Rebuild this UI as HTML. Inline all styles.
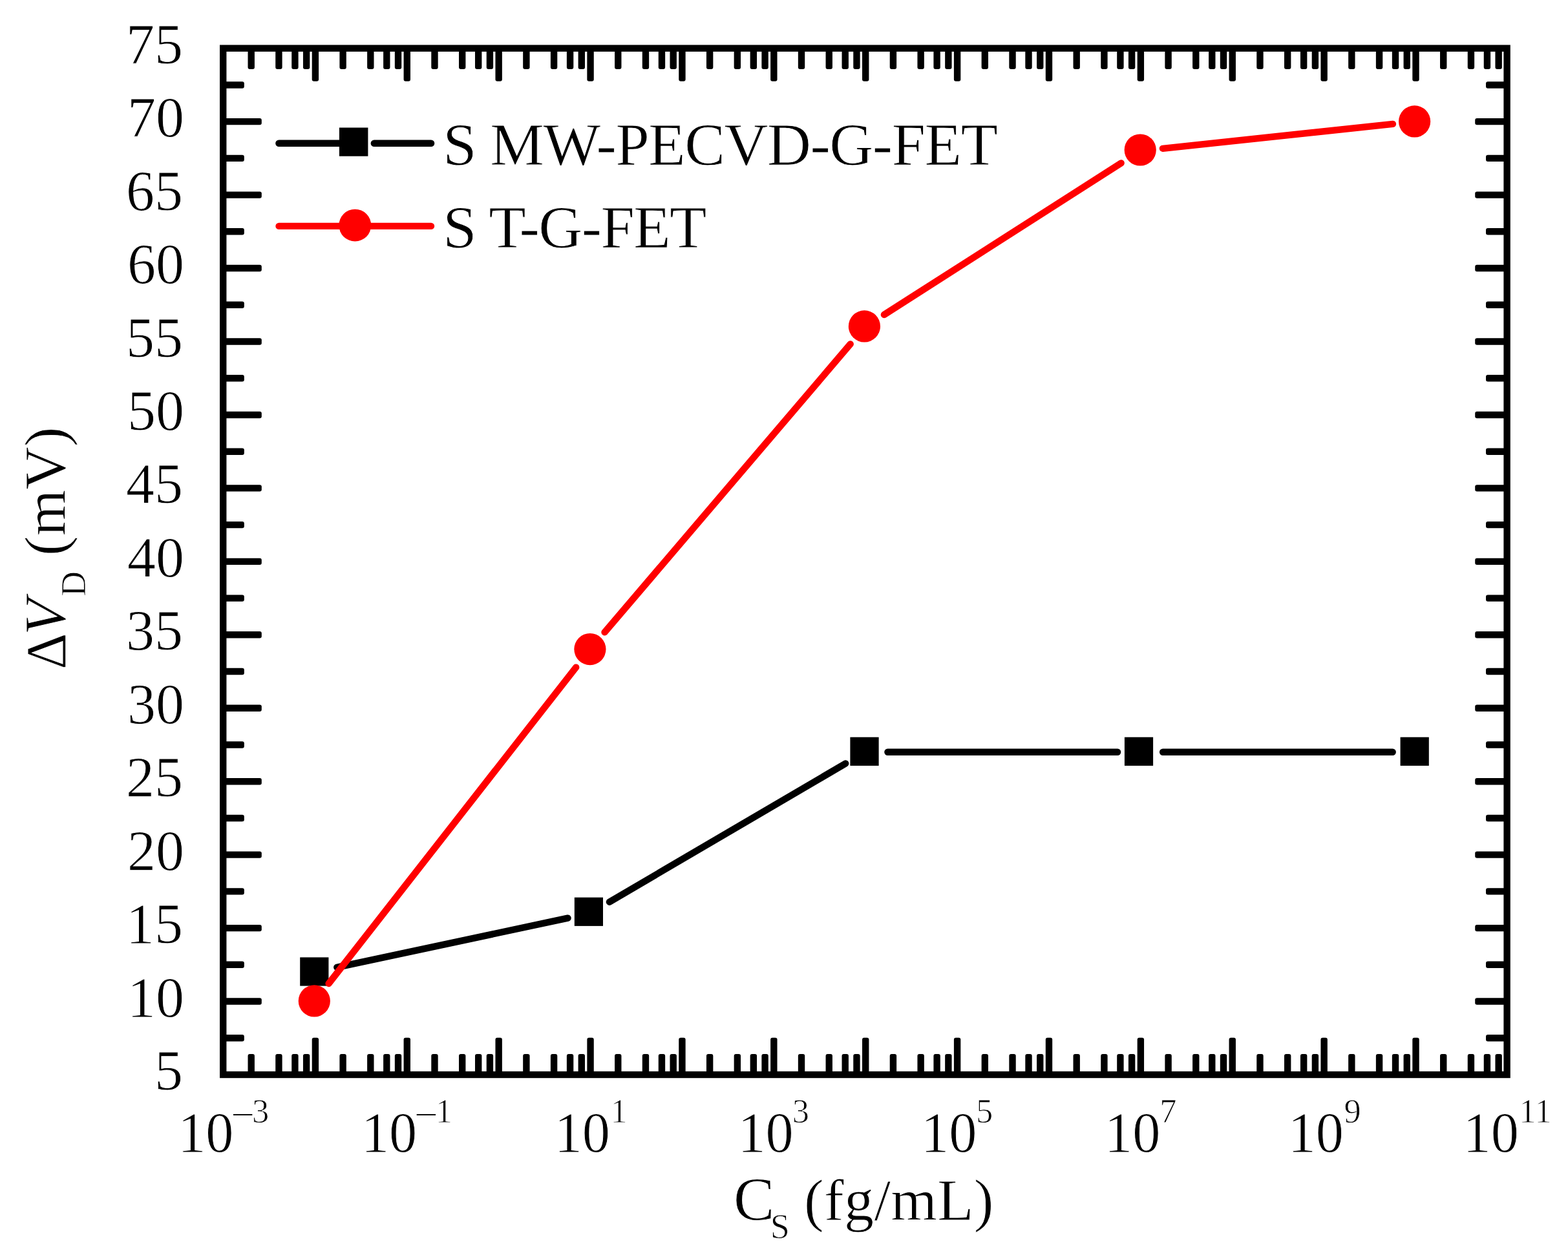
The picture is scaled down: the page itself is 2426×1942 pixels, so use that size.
<!DOCTYPE html><html><head><meta charset="utf-8"><style>html,body{margin:0;padding:0;background:#fff;overflow:hidden;}svg{display:block;}text{font-family:"Liberation Serif","Times New Roman",serif;fill:#000;stroke:#fff;stroke-width:0.9px;paint-order:fill;}</style></head><body>
<svg width="2426" height="1942" viewBox="0 0 2426 1942">
<rect x="0" y="0" width="2426" height="1942" fill="#fff"/>
<g fill="#000">
<rect x="383.51" y="1631.00" width="10.4" height="32.00" rx="3"/>
<rect x="383.51" y="74.70" width="10.4" height="32.20" rx="3"/>
<rect x="426.22" y="1631.00" width="10.4" height="32.00" rx="3"/>
<rect x="426.22" y="74.70" width="10.4" height="32.20" rx="3"/>
<rect x="451.21" y="1631.00" width="10.4" height="32.00" rx="3"/>
<rect x="451.21" y="74.70" width="10.4" height="32.20" rx="3"/>
<rect x="468.94" y="1631.00" width="10.4" height="32.00" rx="3"/>
<rect x="468.94" y="74.70" width="10.4" height="32.20" rx="3"/>
<rect x="482.69" y="1605.80" width="10.4" height="57.20" rx="3"/>
<rect x="482.69" y="74.70" width="10.4" height="51.10" rx="3"/>
<rect x="525.40" y="1631.00" width="10.4" height="32.00" rx="3"/>
<rect x="525.40" y="74.70" width="10.4" height="32.20" rx="3"/>
<rect x="568.11" y="1631.00" width="10.4" height="32.00" rx="3"/>
<rect x="568.11" y="74.70" width="10.4" height="32.20" rx="3"/>
<rect x="593.09" y="1631.00" width="10.4" height="32.00" rx="3"/>
<rect x="593.09" y="74.70" width="10.4" height="32.20" rx="3"/>
<rect x="610.82" y="1631.00" width="10.4" height="32.00" rx="3"/>
<rect x="610.82" y="74.70" width="10.4" height="32.20" rx="3"/>
<rect x="624.57" y="1605.80" width="10.4" height="57.20" rx="3"/>
<rect x="624.57" y="74.70" width="10.4" height="51.10" rx="3"/>
<rect x="667.28" y="1631.00" width="10.4" height="32.00" rx="3"/>
<rect x="667.28" y="74.70" width="10.4" height="32.20" rx="3"/>
<rect x="710.00" y="1631.00" width="10.4" height="32.00" rx="3"/>
<rect x="710.00" y="74.70" width="10.4" height="32.20" rx="3"/>
<rect x="734.98" y="1631.00" width="10.4" height="32.00" rx="3"/>
<rect x="734.98" y="74.70" width="10.4" height="32.20" rx="3"/>
<rect x="752.71" y="1631.00" width="10.4" height="32.00" rx="3"/>
<rect x="752.71" y="74.70" width="10.4" height="32.20" rx="3"/>
<rect x="766.46" y="1605.80" width="10.4" height="57.20" rx="3"/>
<rect x="766.46" y="74.70" width="10.4" height="51.10" rx="3"/>
<rect x="809.17" y="1631.00" width="10.4" height="32.00" rx="3"/>
<rect x="809.17" y="74.70" width="10.4" height="32.20" rx="3"/>
<rect x="851.88" y="1631.00" width="10.4" height="32.00" rx="3"/>
<rect x="851.88" y="74.70" width="10.4" height="32.20" rx="3"/>
<rect x="876.87" y="1631.00" width="10.4" height="32.00" rx="3"/>
<rect x="876.87" y="74.70" width="10.4" height="32.20" rx="3"/>
<rect x="894.59" y="1631.00" width="10.4" height="32.00" rx="3"/>
<rect x="894.59" y="74.70" width="10.4" height="32.20" rx="3"/>
<rect x="908.34" y="1605.80" width="10.4" height="57.20" rx="3"/>
<rect x="908.34" y="74.70" width="10.4" height="51.10" rx="3"/>
<rect x="951.06" y="1631.00" width="10.4" height="32.00" rx="3"/>
<rect x="951.06" y="74.70" width="10.4" height="32.20" rx="3"/>
<rect x="993.77" y="1631.00" width="10.4" height="32.00" rx="3"/>
<rect x="993.77" y="74.70" width="10.4" height="32.20" rx="3"/>
<rect x="1018.75" y="1631.00" width="10.4" height="32.00" rx="3"/>
<rect x="1018.75" y="74.70" width="10.4" height="32.20" rx="3"/>
<rect x="1036.48" y="1631.00" width="10.4" height="32.00" rx="3"/>
<rect x="1036.48" y="74.70" width="10.4" height="32.20" rx="3"/>
<rect x="1050.23" y="1605.80" width="10.4" height="57.20" rx="3"/>
<rect x="1050.23" y="74.70" width="10.4" height="51.10" rx="3"/>
<rect x="1092.94" y="1631.00" width="10.4" height="32.00" rx="3"/>
<rect x="1092.94" y="74.70" width="10.4" height="32.20" rx="3"/>
<rect x="1135.65" y="1631.00" width="10.4" height="32.00" rx="3"/>
<rect x="1135.65" y="74.70" width="10.4" height="32.20" rx="3"/>
<rect x="1160.64" y="1631.00" width="10.4" height="32.00" rx="3"/>
<rect x="1160.64" y="74.70" width="10.4" height="32.20" rx="3"/>
<rect x="1178.37" y="1631.00" width="10.4" height="32.00" rx="3"/>
<rect x="1178.37" y="74.70" width="10.4" height="32.20" rx="3"/>
<rect x="1192.12" y="1605.80" width="10.4" height="57.20" rx="3"/>
<rect x="1192.12" y="74.70" width="10.4" height="51.10" rx="3"/>
<rect x="1234.83" y="1631.00" width="10.4" height="32.00" rx="3"/>
<rect x="1234.83" y="74.70" width="10.4" height="32.20" rx="3"/>
<rect x="1277.54" y="1631.00" width="10.4" height="32.00" rx="3"/>
<rect x="1277.54" y="74.70" width="10.4" height="32.20" rx="3"/>
<rect x="1302.52" y="1631.00" width="10.4" height="32.00" rx="3"/>
<rect x="1302.52" y="74.70" width="10.4" height="32.20" rx="3"/>
<rect x="1320.25" y="1631.00" width="10.4" height="32.00" rx="3"/>
<rect x="1320.25" y="74.70" width="10.4" height="32.20" rx="3"/>
<rect x="1334.00" y="1605.80" width="10.4" height="57.20" rx="3"/>
<rect x="1334.00" y="74.70" width="10.4" height="51.10" rx="3"/>
<rect x="1376.71" y="1631.00" width="10.4" height="32.00" rx="3"/>
<rect x="1376.71" y="74.70" width="10.4" height="32.20" rx="3"/>
<rect x="1419.43" y="1631.00" width="10.4" height="32.00" rx="3"/>
<rect x="1419.43" y="74.70" width="10.4" height="32.20" rx="3"/>
<rect x="1444.41" y="1631.00" width="10.4" height="32.00" rx="3"/>
<rect x="1444.41" y="74.70" width="10.4" height="32.20" rx="3"/>
<rect x="1462.14" y="1631.00" width="10.4" height="32.00" rx="3"/>
<rect x="1462.14" y="74.70" width="10.4" height="32.20" rx="3"/>
<rect x="1475.89" y="1605.80" width="10.4" height="57.20" rx="3"/>
<rect x="1475.89" y="74.70" width="10.4" height="51.10" rx="3"/>
<rect x="1518.60" y="1631.00" width="10.4" height="32.00" rx="3"/>
<rect x="1518.60" y="74.70" width="10.4" height="32.20" rx="3"/>
<rect x="1561.31" y="1631.00" width="10.4" height="32.00" rx="3"/>
<rect x="1561.31" y="74.70" width="10.4" height="32.20" rx="3"/>
<rect x="1586.30" y="1631.00" width="10.4" height="32.00" rx="3"/>
<rect x="1586.30" y="74.70" width="10.4" height="32.20" rx="3"/>
<rect x="1604.02" y="1631.00" width="10.4" height="32.00" rx="3"/>
<rect x="1604.02" y="74.70" width="10.4" height="32.20" rx="3"/>
<rect x="1617.77" y="1605.80" width="10.4" height="57.20" rx="3"/>
<rect x="1617.77" y="74.70" width="10.4" height="51.10" rx="3"/>
<rect x="1660.49" y="1631.00" width="10.4" height="32.00" rx="3"/>
<rect x="1660.49" y="74.70" width="10.4" height="32.20" rx="3"/>
<rect x="1703.20" y="1631.00" width="10.4" height="32.00" rx="3"/>
<rect x="1703.20" y="74.70" width="10.4" height="32.20" rx="3"/>
<rect x="1728.18" y="1631.00" width="10.4" height="32.00" rx="3"/>
<rect x="1728.18" y="74.70" width="10.4" height="32.20" rx="3"/>
<rect x="1745.91" y="1631.00" width="10.4" height="32.00" rx="3"/>
<rect x="1745.91" y="74.70" width="10.4" height="32.20" rx="3"/>
<rect x="1759.66" y="1605.80" width="10.4" height="57.20" rx="3"/>
<rect x="1759.66" y="74.70" width="10.4" height="51.10" rx="3"/>
<rect x="1802.37" y="1631.00" width="10.4" height="32.00" rx="3"/>
<rect x="1802.37" y="74.70" width="10.4" height="32.20" rx="3"/>
<rect x="1845.08" y="1631.00" width="10.4" height="32.00" rx="3"/>
<rect x="1845.08" y="74.70" width="10.4" height="32.20" rx="3"/>
<rect x="1870.07" y="1631.00" width="10.4" height="32.00" rx="3"/>
<rect x="1870.07" y="74.70" width="10.4" height="32.20" rx="3"/>
<rect x="1887.80" y="1631.00" width="10.4" height="32.00" rx="3"/>
<rect x="1887.80" y="74.70" width="10.4" height="32.20" rx="3"/>
<rect x="1901.55" y="1605.80" width="10.4" height="57.20" rx="3"/>
<rect x="1901.55" y="74.70" width="10.4" height="51.10" rx="3"/>
<rect x="1944.26" y="1631.00" width="10.4" height="32.00" rx="3"/>
<rect x="1944.26" y="74.70" width="10.4" height="32.20" rx="3"/>
<rect x="1986.97" y="1631.00" width="10.4" height="32.00" rx="3"/>
<rect x="1986.97" y="74.70" width="10.4" height="32.20" rx="3"/>
<rect x="2011.95" y="1631.00" width="10.4" height="32.00" rx="3"/>
<rect x="2011.95" y="74.70" width="10.4" height="32.20" rx="3"/>
<rect x="2029.68" y="1631.00" width="10.4" height="32.00" rx="3"/>
<rect x="2029.68" y="74.70" width="10.4" height="32.20" rx="3"/>
<rect x="2043.43" y="1605.80" width="10.4" height="57.20" rx="3"/>
<rect x="2043.43" y="74.70" width="10.4" height="51.10" rx="3"/>
<rect x="2086.14" y="1631.00" width="10.4" height="32.00" rx="3"/>
<rect x="2086.14" y="74.70" width="10.4" height="32.20" rx="3"/>
<rect x="2128.86" y="1631.00" width="10.4" height="32.00" rx="3"/>
<rect x="2128.86" y="74.70" width="10.4" height="32.20" rx="3"/>
<rect x="2153.84" y="1631.00" width="10.4" height="32.00" rx="3"/>
<rect x="2153.84" y="74.70" width="10.4" height="32.20" rx="3"/>
<rect x="2171.57" y="1631.00" width="10.4" height="32.00" rx="3"/>
<rect x="2171.57" y="74.70" width="10.4" height="32.20" rx="3"/>
<rect x="2185.32" y="1605.80" width="10.4" height="57.20" rx="3"/>
<rect x="2185.32" y="74.70" width="10.4" height="51.10" rx="3"/>
<rect x="2228.03" y="1631.00" width="10.4" height="32.00" rx="3"/>
<rect x="2228.03" y="74.70" width="10.4" height="32.20" rx="3"/>
<rect x="2270.74" y="1631.00" width="10.4" height="32.00" rx="3"/>
<rect x="2270.74" y="74.70" width="10.4" height="32.20" rx="3"/>
<rect x="2295.73" y="1631.00" width="10.4" height="32.00" rx="3"/>
<rect x="2295.73" y="74.70" width="10.4" height="32.20" rx="3"/>
<rect x="2313.45" y="1631.00" width="10.4" height="32.00" rx="3"/>
<rect x="2313.45" y="74.70" width="10.4" height="32.20" rx="3"/>
<rect x="345.20" y="1601.08" width="32.60" height="10.4" rx="3"/>
<rect x="2299.00" y="1601.08" width="32.60" height="10.4" rx="3"/>
<rect x="345.20" y="1544.35" width="59.60" height="10.4" rx="3"/>
<rect x="2282.20" y="1544.35" width="49.40" height="10.4" rx="3"/>
<rect x="345.20" y="1487.62" width="32.60" height="10.4" rx="3"/>
<rect x="2299.00" y="1487.62" width="32.60" height="10.4" rx="3"/>
<rect x="345.20" y="1430.90" width="59.60" height="10.4" rx="3"/>
<rect x="2282.20" y="1430.90" width="49.40" height="10.4" rx="3"/>
<rect x="345.20" y="1374.18" width="32.60" height="10.4" rx="3"/>
<rect x="2299.00" y="1374.18" width="32.60" height="10.4" rx="3"/>
<rect x="345.20" y="1317.45" width="59.60" height="10.4" rx="3"/>
<rect x="2282.20" y="1317.45" width="49.40" height="10.4" rx="3"/>
<rect x="345.20" y="1260.73" width="32.60" height="10.4" rx="3"/>
<rect x="2299.00" y="1260.73" width="32.60" height="10.4" rx="3"/>
<rect x="345.20" y="1204.00" width="59.60" height="10.4" rx="3"/>
<rect x="2282.20" y="1204.00" width="49.40" height="10.4" rx="3"/>
<rect x="345.20" y="1147.28" width="32.60" height="10.4" rx="3"/>
<rect x="2299.00" y="1147.28" width="32.60" height="10.4" rx="3"/>
<rect x="345.20" y="1090.55" width="59.60" height="10.4" rx="3"/>
<rect x="2282.20" y="1090.55" width="49.40" height="10.4" rx="3"/>
<rect x="345.20" y="1033.83" width="32.60" height="10.4" rx="3"/>
<rect x="2299.00" y="1033.83" width="32.60" height="10.4" rx="3"/>
<rect x="345.20" y="977.10" width="59.60" height="10.4" rx="3"/>
<rect x="2282.20" y="977.10" width="49.40" height="10.4" rx="3"/>
<rect x="345.20" y="920.38" width="32.60" height="10.4" rx="3"/>
<rect x="2299.00" y="920.38" width="32.60" height="10.4" rx="3"/>
<rect x="345.20" y="863.65" width="59.60" height="10.4" rx="3"/>
<rect x="2282.20" y="863.65" width="49.40" height="10.4" rx="3"/>
<rect x="345.20" y="806.93" width="32.60" height="10.4" rx="3"/>
<rect x="2299.00" y="806.93" width="32.60" height="10.4" rx="3"/>
<rect x="345.20" y="750.20" width="59.60" height="10.4" rx="3"/>
<rect x="2282.20" y="750.20" width="49.40" height="10.4" rx="3"/>
<rect x="345.20" y="693.48" width="32.60" height="10.4" rx="3"/>
<rect x="2299.00" y="693.48" width="32.60" height="10.4" rx="3"/>
<rect x="345.20" y="636.75" width="59.60" height="10.4" rx="3"/>
<rect x="2282.20" y="636.75" width="49.40" height="10.4" rx="3"/>
<rect x="345.20" y="580.02" width="32.60" height="10.4" rx="3"/>
<rect x="2299.00" y="580.02" width="32.60" height="10.4" rx="3"/>
<rect x="345.20" y="523.30" width="59.60" height="10.4" rx="3"/>
<rect x="2282.20" y="523.30" width="49.40" height="10.4" rx="3"/>
<rect x="345.20" y="466.58" width="32.60" height="10.4" rx="3"/>
<rect x="2299.00" y="466.58" width="32.60" height="10.4" rx="3"/>
<rect x="345.20" y="409.85" width="59.60" height="10.4" rx="3"/>
<rect x="2282.20" y="409.85" width="49.40" height="10.4" rx="3"/>
<rect x="345.20" y="353.12" width="32.60" height="10.4" rx="3"/>
<rect x="2299.00" y="353.12" width="32.60" height="10.4" rx="3"/>
<rect x="345.20" y="296.40" width="59.60" height="10.4" rx="3"/>
<rect x="2282.20" y="296.40" width="49.40" height="10.4" rx="3"/>
<rect x="345.20" y="239.68" width="32.60" height="10.4" rx="3"/>
<rect x="2299.00" y="239.68" width="32.60" height="10.4" rx="3"/>
<rect x="345.20" y="182.95" width="59.60" height="10.4" rx="3"/>
<rect x="2282.20" y="182.95" width="49.40" height="10.4" rx="3"/>
<rect x="345.20" y="126.23" width="32.60" height="10.4" rx="3"/>
<rect x="2299.00" y="126.23" width="32.60" height="10.4" rx="3"/>
</g>
<rect x="345.2" y="74.7" width="1986.40" height="1588.30" fill="none" stroke="#000" stroke-width="10.4"/>
<line x1="521.3" y1="1496.9" x2="878.5" y2="1420.7" stroke="#000" stroke-width="10.4" stroke-linecap="round"/>
<line x1="942.9" y1="1395.7" x2="1308.2" y2="1181.5" stroke="#000" stroke-width="10.4" stroke-linecap="round"/>
<line x1="1373.4" y1="1163.8" x2="1729.1" y2="1163.8" stroke="#000" stroke-width="10.4" stroke-linecap="round"/>
<line x1="1799.1" y1="1163.8" x2="2154.7" y2="1163.8" stroke="#000" stroke-width="10.4" stroke-linecap="round"/>
<rect x="464.2" y="1481.4" width="44.2" height="44.2" fill="#000"/>
<rect x="888.8" y="1388.7" width="44.2" height="44.2" fill="#000"/>
<rect x="1315.4" y="1140.7" width="44.2" height="44.2" fill="#000"/>
<rect x="1739.9" y="1140.7" width="44.2" height="44.2" fill="#000"/>
<rect x="2166.6" y="1140.7" width="44.2" height="44.2" fill="#000"/>
<line x1="508.6" y1="1522.0" x2="891.2" y2="1032.6" stroke="#f00" stroke-width="10.4" stroke-linecap="round"/>
<line x1="935.5" y1="978.4" x2="1315.7" y2="532.4" stroke="#f00" stroke-width="10.4" stroke-linecap="round"/>
<line x1="1367.9" y1="487.0" x2="1734.6" y2="252.4" stroke="#f00" stroke-width="10.4" stroke-linecap="round"/>
<line x1="1798.9" y1="229.8" x2="2154.9" y2="191.9" stroke="#f00" stroke-width="10.4" stroke-linecap="round"/>
<circle cx="486.3" cy="1548.9" r="24.6" fill="#f00"/>
<circle cx="912.9" cy="1004.6" r="24.6" fill="#f00"/>
<circle cx="1337.4" cy="504.9" r="24.6" fill="#f00"/>
<circle cx="1764.2" cy="232.0" r="24.6" fill="#f00"/>
<circle cx="2188.6" cy="187.9" r="24.6" fill="#f00"/>
<line x1="431.5" y1="221.7" x2="524.9" y2="221.7" stroke="#000" stroke-width="10.6" stroke-linecap="round"/>
<line x1="578.9" y1="221.7" x2="667" y2="221.7" stroke="#000" stroke-width="10.6" stroke-linecap="round"/>
<rect x="524.9" y="197.5" width="44.5" height="44.2" fill="#000"/>
<line x1="431.5" y1="349.9" x2="667" y2="349.9" stroke="#f00" stroke-width="10.4" stroke-linecap="round"/>
<circle cx="549.3" cy="348.6" r="24.9" fill="#f00"/>
<text x="685.3" y="255.2" font-size="94" textLength="858.6" lengthAdjust="spacing">S MW-PECVD-G-FET</text>
<text x="685.3" y="382.6" font-size="94" textLength="408.2" lengthAdjust="spacing">S T-G-FET</text>
<text x="283" y="1686.0" font-size="88" text-anchor="end">5</text>
<text x="285" y="1572.6" font-size="88" text-anchor="end">10</text>
<text x="283" y="1459.1" font-size="88" text-anchor="end">15</text>
<text x="285" y="1345.7" font-size="88" text-anchor="end">20</text>
<text x="283" y="1232.2" font-size="88" text-anchor="end">25</text>
<text x="285" y="1118.8" font-size="88" text-anchor="end">30</text>
<text x="283" y="1005.3" font-size="88" text-anchor="end">35</text>
<text x="285" y="891.9" font-size="88" text-anchor="end">40</text>
<text x="283" y="778.4" font-size="88" text-anchor="end">45</text>
<text x="285" y="665.0" font-size="88" text-anchor="end">50</text>
<text x="283" y="551.5" font-size="88" text-anchor="end">55</text>
<text x="285" y="438.1" font-size="88" text-anchor="end">60</text>
<text x="283" y="324.6" font-size="88" text-anchor="end">65</text>
<text x="285" y="211.2" font-size="88" text-anchor="end">70</text>
<text x="283" y="97.7" font-size="88" text-anchor="end">75</text>
<text x="275.2" y="1782.2" font-size="88.5" textLength="86.3" lengthAdjust="spacingAndGlyphs">10</text>
<text font-size="52" style="stroke:none" transform="translate(357.75,1738.1) scale(1.217,0.77)">−</text>
<text x="390.0" y="1737.3" font-size="52.5">3</text>
<text x="558.9" y="1782.2" font-size="88.5" textLength="86.3" lengthAdjust="spacingAndGlyphs">10</text>
<text font-size="52" style="stroke:none" transform="translate(641.45,1738.1) scale(1.217,0.77)">−</text>
<text x="673.7" y="1737.3" font-size="52.5">1</text>
<text x="857.7" y="1782.2" font-size="88.5" textLength="86.3" lengthAdjust="spacingAndGlyphs">10</text>
<text x="944.5" y="1737.3" font-size="52.5">1</text>
<text x="1141.4" y="1782.2" font-size="88.5" textLength="86.3" lengthAdjust="spacingAndGlyphs">10</text>
<text x="1225.7" y="1737.3" font-size="52.5">3</text>
<text x="1425.1" y="1782.2" font-size="88.5" textLength="86.3" lengthAdjust="spacingAndGlyphs">10</text>
<text x="1510.1" y="1737.3" font-size="52.5">5</text>
<text x="1709.0" y="1782.2" font-size="88.5" textLength="86.3" lengthAdjust="spacingAndGlyphs">10</text>
<text x="1794.3" y="1737.3" font-size="52.5">7</text>
<text x="1992.7" y="1782.2" font-size="88.5" textLength="86.3" lengthAdjust="spacingAndGlyphs">10</text>
<text x="2079.5" y="1737.3" font-size="52.5">9</text>
<text x="2263.5" y="1782.2" font-size="88.5" textLength="86.3" lengthAdjust="spacingAndGlyphs">10</text>
<text x="2350.3" y="1737.3" font-size="52.5">11</text>
<text x="1135" y="1888" font-size="95">C</text>
<text x="1191.7" y="1915.9" font-size="54">S</text>
<text x="1244.1" y="1887.7" font-size="92" textLength="293.35" lengthAdjust="spacing">(fg/mL)</text>
<g transform="translate(100.7,1036) rotate(-90)">
<text x="0" y="0" font-size="88">Δ</text>
<text x="53" y="0" font-size="92" font-style="italic">V</text>
<text x="113" y="31" font-size="54">D</text>
<text x="176" y="0" font-size="92">(mV)</text>
</g>
</svg></body></html>
